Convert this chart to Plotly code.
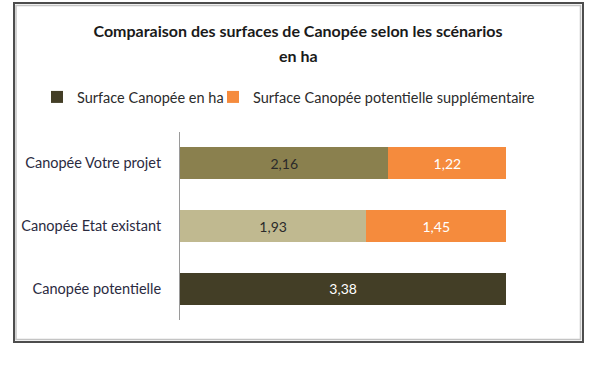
import plotly.graph_objects as go

categories = ["Canopée potentielle", "Canopée Etat existant", "Canopée Votre projet"]
surface = [3.38, 1.93, 2.16]
supplement = [None, 1.45, 1.22]
series_names = ["Surface Canopée en ha", "Surface Canopée potentielle supplémentaire"]
title_line1 = "Comparaison des surfaces de Canopée selon les scénarios"
title_line2 = "en ha"

surface_colors = ["#433e26", "#c0b990", "#8a804e"]
surface_text_colors = ["#ffffff", "#2a2a2a", "#2a2a2a"]
supp_color = "#f58b3d"

FONT = "Lato, sans-serif"

fig = go.Figure()
fig.add_trace(go.Bar(
    y=categories, x=surface, orientation="h", name=series_names[0],
    marker=dict(color=surface_colors, line=dict(width=0)),
    texttemplate="%{x:.2f}", textposition="inside", insidetextanchor="middle",
    textfont=dict(color=surface_text_colors, size=14, family=FONT),
    legend="legend",
))
fig.add_trace(go.Bar(
    y=categories, x=supplement, orientation="h", name=series_names[1],
    marker=dict(color=supp_color, line=dict(width=0)),
    texttemplate="%{x:.2f}", textposition="inside", insidetextanchor="middle",
    textfont=dict(color="#ffffff", size=14, family=FONT),
    legend="legend2",
))

W, H = 600, 371
ml, mr, mt, mb = 180, 60, 132, 51
pw, ph = W - ml - mr, H - mt - mb

def px_x(p):
    return (p - ml) / pw

def px_y(p):
    return (H - mb - p) / ph

legend_common = dict(orientation="h", xref="container", yref="container",
                     xanchor="left", y=1 - 97 / H, yanchor="middle",
                     font=dict(size=14.5, color="#2b2b2b", family=FONT),
                     itemwidth=30, bgcolor="rgba(0,0,0,0)",
                     borderwidth=0)

fig.update_layout(
    width=W, height=H,
    margin=dict(l=ml, r=mr, t=mt, b=mb),
    barmode="stack", bargap=0.49,
    separators=", ",
    paper_bgcolor="white", plot_bgcolor="white",
    font=dict(family=FONT, size=14, color="#2b2b38"),
    title=dict(text="<b>" + title_line1 + "</b>", x=298 / W, xanchor="center", xref="container",
               y=1 - 31 / H, yanchor="middle", yref="container",
               font=dict(size=16, color="#1a1a1a", family=FONT)),
    annotations=[dict(text="<b>" + title_line2 + "</b>", xref="paper", yref="paper",
                      x=px_x(298), y=px_y(55), xanchor="center", yanchor="middle",
                      showarrow=False, font=dict(size=16, color="#1a1a1a", family=FONT))],
    showlegend=True,
    legend=dict(x=37 / W, **legend_common),
    legend2=dict(x=213 / W, **legend_common),
    xaxis=dict(range=[0, 3.73], visible=False, showgrid=False, zeroline=False),
    yaxis=dict(showline=True, linecolor="#9a9a9a", linewidth=1, showgrid=False,
               ticks="", ticklabelstandoff=15, zeroline=False,
               tickfont=dict(size=14.5, color="#2b2b3f", family=FONT)),
    shapes=[
        dict(type="rect", xref="paper", yref="paper",
             x0=px_x(16), x1=px_x(580.5), y0=px_y(339.5), y1=px_y(5.5),
             line=dict(color="#c4c4c4", width=1.5), layer="above"),
        dict(type="rect", xref="paper", yref="paper",
             x0=px_x(14), x1=px_x(583), y0=px_y(342), y1=px_y(3),
             line=dict(color="#4d4d4d", width=2), layer="above"),
        dict(type="line", xref="paper", yref="paper",
             x0=px_x(14), x1=px_x(583), y0=px_y(3), y1=px_y(3),
             line=dict(color="#4d4d4d", width=2), layer="above"),
    ],
)

fig.write_html("out.html", config={"displayModeBar": False},
               post_script="document.body.style.margin='0';")
